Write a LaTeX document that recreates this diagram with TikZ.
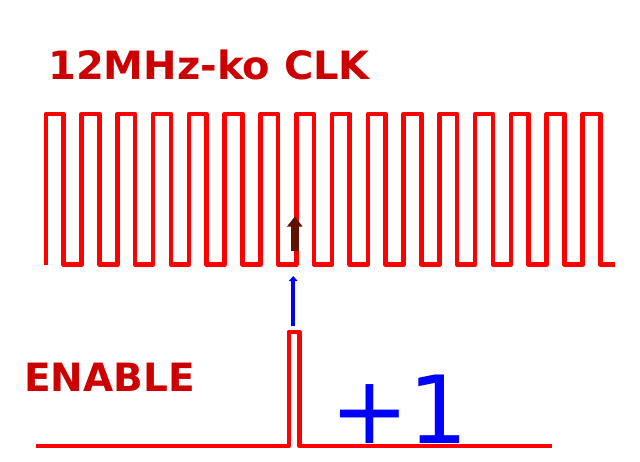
\documentclass[tikz,border=0pt]{standalone}
\usepackage{fontspec}
\newfontfamily\dejavu{DejaVu Sans}
\usetikzlibrary{arrows.meta}

\definecolor{clkred}{RGB}{255,0,0}
\definecolor{textred}{RGB}{204,0,0}
\definecolor{edgebrown}{RGB}{96,18,0}
\definecolor{pulseblue}{RGB}{0,0,255}

\begin{document}
\begin{tikzpicture}[x=1pt,y=-1pt]
\tikzset{
  wave/.style={draw=clkred,line width=4.6pt,line join=round},
  enwave/.style={draw=clkred,line width=4.3pt,line join=round},
  title/.style={anchor=base west,inner sep=0pt,text=textred,font=\dejavu\bfseries\fontsize{39}{39}\selectfont},
  bigsign/.style={anchor=base west,inner sep=0pt,text=pulseblue,font=\dejavu\fontsize{94}{94}\selectfont},
  edgearrow/.style={-{Triangle[width=15pt,length=10pt]},draw=edgebrown,line width=7.8pt},
  enarrow/.style={-{Triangle[width=8.5pt,length=5pt]},draw=pulseblue,line width=4.2pt}
}
\useasboundingbox (0,0) rectangle (640,461);
\node[title,xscale=1.026] (n_clk) at (48,79) {12MHz-ko CLK};
\node[title] (n_enable) at (24,391) {ENABLE};
\node[bigsign] (n_plus) at (330,443) {+1};
% clock, 16 periods
\draw[wave] (45.8,264.5) foreach \i in {0,...,14} {
    -- ++(0,-150.5) -- ++(17.7,0) -- ++(0,150.5) -- ++(18.08,0)
  } -- ++(0,-150.5) -- ++(17.7,0) -- ++(0,150.5) -- ++(15,0);
% enable pulse
\coordinate (en_a) at (36,446.3);
\coordinate (en_b) at (552,446.3);
\draw[enwave] (en_a) -- (288.8,446.3) -- (288.8,331.7) -- (299.5,331.7)
  -- (299.5,446.3) -- (en_b);
% edges
\coordinate (e_low) at (294.8,251);
\coordinate (e_top) at (294.8,216.5);
\draw[edgearrow] (e_low) -- (e_top);
\coordinate (p_low) at (293.2,326);
\coordinate (p_top) at (293.2,276);
\draw[enarrow] (p_low) -- (p_top);
\end{tikzpicture}
\end{document}
